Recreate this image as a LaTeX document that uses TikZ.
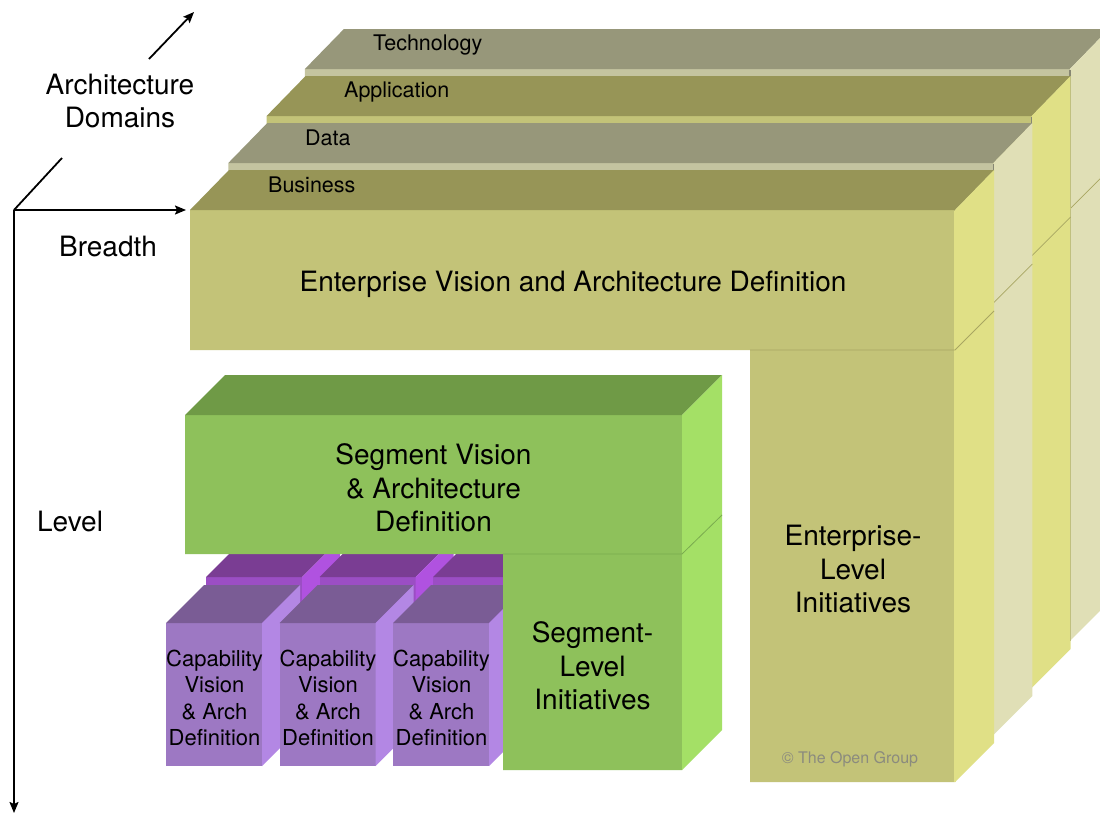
\documentclass[tikz,border=0pt]{standalone}
\usepackage{fontspec}
\setmainfont{TeX Gyre Heros}
\usetikzlibrary{arrows.meta}
\definecolor{entfront}{RGB}{195,195,120}
\definecolor{enttop}{RGB}{151,149,87}
\definecolor{entside}{RGB}{224,224,134}
\definecolor{altfront}{RGB}{196,196,160}
\definecolor{alttop}{RGB}{151,151,122}
\definecolor{altside}{RGB}{224,223,182}
\definecolor{entcrease}{RGB}{168,166,98}
\definecolor{sidegray}{RGB}{135,135,115}
\definecolor{grfront}{RGB}{142,193,91}
\definecolor{grtop}{RGB}{111,154,70}
\definecolor{grside}{RGB}{164,224,102}
\definecolor{grcrease}{RGB}{122,172,78}
\definecolor{pufront}{RGB}{157,120,195}
\definecolor{putop}{RGB}{122,92,149}
\definecolor{puside}{RGB}{179,135,228}
\definecolor{bkfront}{RGB}{155,78,196}
\definecolor{bktop}{RGB}{122,61,147}
\definecolor{bkside}{RGB}{176,82,224}
\definecolor{copygray}{RGB}{139,139,126}
\newcommand\entslab[5]{%
  \begin{scope}[shift={(38.3*#1,-47*#1)}]
    \fill[#2] (190,210) -- (955,210) -- (955,782) -- (750,782) -- (750,350) -- (190,350) -- cycle;
    \fill[#3] (190,210) -- (229,170) -- (994,170) -- (955,210) -- cycle;
    \fill[#4] (955,210) -- (994,170) -- (994,743) -- (955,782) -- cycle;
    \draw[#5, line width=1.2pt] (955,211) -- (955,782);
    \draw[entcrease, line width=0.8pt] (750,350) -- (955,350) -- (994,311);
  \end{scope}}
\newcommand\capbox[5]{%
  \begin{scope}[shift={(#1,#2)}]
    \fill[#3] (0,0) rectangle (96,143);
    \fill[#4] (0,0) -- (38,-38) -- (134,-38) -- (96,0) -- cycle;
    \fill[#5] (96,0) -- (134,-38) -- (134,105) -- (96,143) -- cycle;
  \end{scope}}
\tikzset{
  axis/.style={line width=1.8pt, black},
  axisarrow/.style={axis, -{Stealth[length=11pt,width=9pt,inset=2pt]}},
  bigtext/.style={font=\fontsize{28}{33.5}\selectfont, align=center, inner sep=0pt, text=black},
  midtext/.style={font=\fontsize{22}{26.3}\selectfont, align=center, inner sep=0pt, text=black},
  domtext/.style={font=\fontsize{21.5}{25}\selectfont, anchor=west, inner sep=0pt, text=black},
}
\begin{document}
\begin{tikzpicture}[x=1pt,y=-1pt]
\useasboundingbox (0,0) rectangle (1100,814);
\fill[white] (0,0) rectangle (1100,814);
% enterprise slabs, back to front
\begin{scope}
\clip (0,0) rectangle (1100,814);
\entslab{3}{altfront}{alttop}{altside}{sidegray}
\entslab{2}{entfront}{enttop}{entside}{sidegray}
\entslab{1}{altfront}{alttop}{altside}{sidegray}
\entslab{0}{entfront}{enttop}{entside}{entside}
\end{scope}
% domain labels
\node[domtext] (tech) at (373,45) {Technology};
\node[domtext] (appl) at (344,92) {Application};
\node[domtext] (data) at (305,138) {Data};
\node[domtext] (busi) at (268,185) {Business};
% capability boxes: back row
\capbox{206}{577}{bkfront}{bktop}{bkside}
\capbox{319.5}{577}{bkfront}{bktop}{bkside}
\capbox{433}{577}{bkfront}{bktop}{bkside}
% capability boxes: front row
\capbox{166}{623}{pufront}{putop}{puside}
\capbox{279.5}{623}{pufront}{putop}{puside}
\capbox{393}{623}{pufront}{putop}{puside}
% segment block
\fill[grfront] (185,415) -- (682,415) -- (682,770) -- (503,770) -- (503,554) -- (185,554) -- cycle;
\fill[grtop] (185,415) -- (225,375) -- (722,375) -- (682,415) -- cycle;
\fill[grside] (682,415) -- (722,375) -- (722,730) -- (682,770) -- cycle;
\draw[grcrease, line width=0.8pt] (503,554) -- (682,554) -- (722,515);
% texts
\node[bigtext] (evad) at (573,284) {Enterprise Vision and Architecture Definition};
\node[bigtext] (eli) at (853,569) {Enterprise-\\Level\\Initiatives};
\node[bigtext] (svad) at (433.5,488) {Segment Vision\\\& Architecture\\Definition};
\node[bigtext] (sli) at (592.5,666) {Segment-\\Level\\Initiatives};
\node[midtext] (cap1) at (214.5,698) {Capability\\Vision\\\& Arch\\Definition};
\node[midtext] (cap2) at (328,698) {Capability\\Vision\\\& Arch\\Definition};
\node[midtext] (cap3) at (441.5,698) {Capability\\Vision\\\& Arch\\Definition};
\node[font=\fontsize{16}{19}\selectfont, text=copygray, inner sep=0pt] (copy) at (850,759) {© The Open Group};
% axes
\coordinate (O) at (14,210);
\coordinate (breadthEnd) at (186,210);
\coordinate (levelEnd) at (14,813);
\coordinate (domLow) at (62,158);
\coordinate (domHigh) at (149,59);
\coordinate (domEnd) at (194,12);
\draw[axisarrow] (O) -- (breadthEnd);
\draw[axisarrow] (O) -- (levelEnd);
\draw[axis] (O) -- (domLow);
\draw[axisarrow] (domHigh) -- (domEnd);
\node[bigtext] (archdom) at (120,101) {Architecture\\Domains};
\node[bigtext] (breadth) at (108,246) {Breadth};
\node[bigtext] (level) at (70,521) {Level};
\end{tikzpicture}
\end{document}
